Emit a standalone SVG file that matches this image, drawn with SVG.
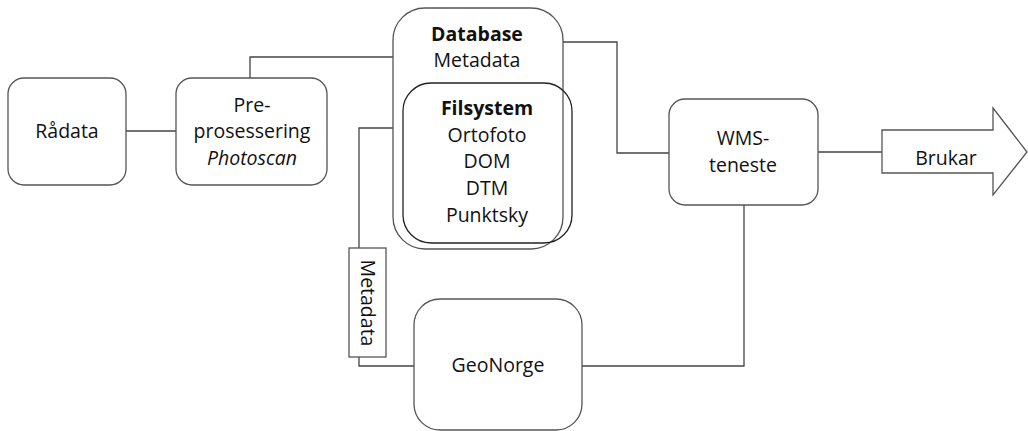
<svg xmlns="http://www.w3.org/2000/svg" width="1028" height="431" viewBox="0 0 1028 431">
  <style>
    .box { fill: #ffffff; stroke: #555555; stroke-width: 1.3; }
    .inner { fill: none; stroke: #222222; stroke-width: 1.3; }
    .wire { fill: none; stroke: #444444; stroke-width: 1.3; }
    .lbl { font-family: "Open Sans", "Liberation Sans", sans-serif; font-size: 19.5px; fill: #111111; text-anchor: middle; }
    .b { font-weight: bold; }
    .i { font-style: italic; }
  </style>
  <rect width="1028" height="431" fill="#ffffff"/>

  <g id="connectors">
    <!-- Rådata to pre-processing -->
    <path class="wire" d="M126 131 H176"/>
    <!-- pre-processing to database -->
    <path class="wire" d="M250 78 V57 H393"/>
    <!-- database to WMS -->
    <path class="wire" d="M563 42 H617 V153 H669"/>
    <!-- WMS to Brukar -->
    <path class="wire" d="M818 152 H882"/>
    <!-- database to GeoNorge (metadata) -->
    <path class="wire" d="M393 128 H359 V366 H414"/>
    <!-- GeoNorge to WMS -->
    <path class="wire" d="M582 366 H744 V205"/>
  </g>

  <g id="radata">
    <rect class="box" x="8" y="78" width="118" height="107" rx="16"/>
    <text class="lbl" x="67" y="138">Rådata</text>
  </g>

  <g id="preprosessering">
    <rect class="box" x="176" y="78" width="151" height="107" rx="16"/>
    <text class="lbl" x="252" y="112">Pre-</text>
    <text class="lbl" x="252" y="138">prosessering</text>
    <text class="lbl i" x="252" y="165">Photoscan</text>
  </g>

  <g id="database">
    <rect class="box" x="393" y="8" width="170" height="241" rx="32"/>
    <text class="lbl b" x="477" y="41">Database</text>
    <text class="lbl" x="477" y="67">Metadata</text>
  </g>

  <g id="filsystem">
    <rect class="inner" x="403" y="83" width="169" height="160" rx="28"/>
    <text class="lbl b" x="487" y="115">Filsystem</text>
    <text class="lbl" x="487" y="142">Ortofoto</text>
    <text class="lbl" x="487" y="168">DOM</text>
    <text class="lbl" x="487" y="195">DTM</text>
    <text class="lbl" x="487" y="222">Punktsky</text>
  </g>

  <g id="metadata-label">
    <rect class="box" x="349" y="248" width="37" height="109" stroke="#333333"/>
    <text class="lbl" transform="translate(361 303) rotate(90)" x="0" y="0">Metadata</text>
  </g>

  <g id="geonorge">
    <rect class="box" x="414" y="299" width="168" height="131" rx="26"/>
    <text class="lbl" x="498" y="372">GeoNorge</text>
  </g>

  <g id="wms">
    <rect class="box" x="669" y="99" width="149" height="106" rx="16"/>
    <text class="lbl" x="743" y="145">WMS-</text>
    <text class="lbl" x="743" y="172">teneste</text>
  </g>

  <g id="brukar">
    <polygon class="box" points="882,130 993,130 993,108 1027,152 993,195 993,173 882,173"/>
    <text class="lbl" x="946" y="165">Brukar</text>
  </g>
</svg>
